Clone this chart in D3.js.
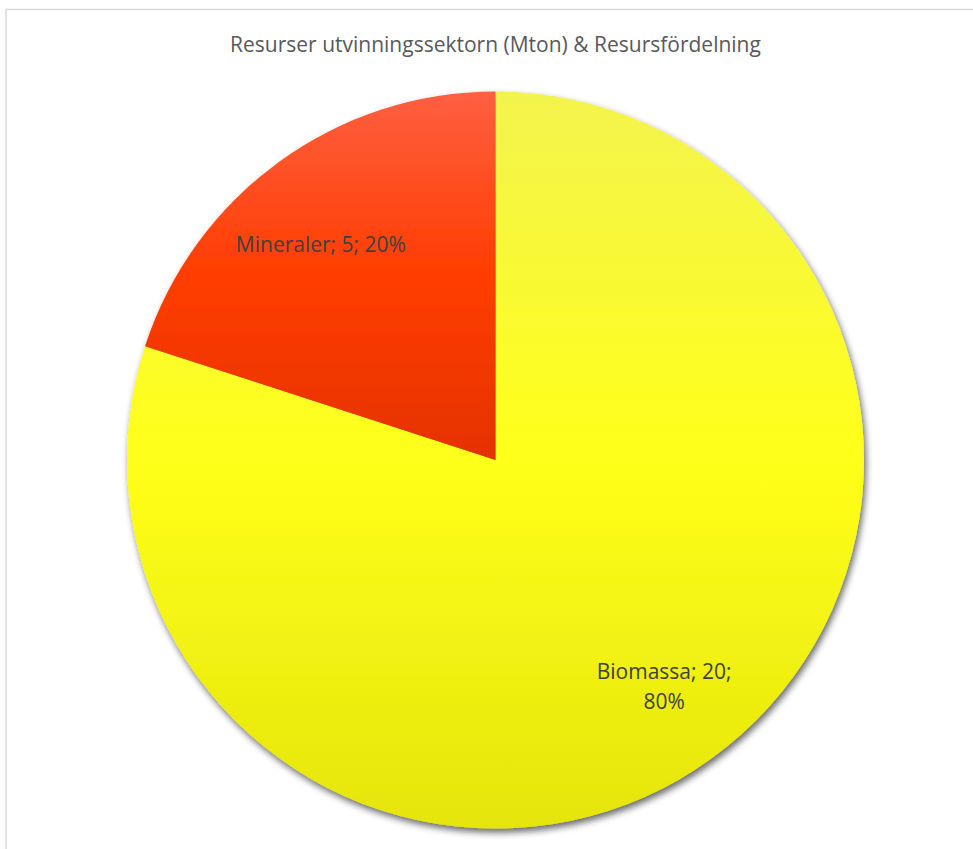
<!DOCTYPE html>
<html>
<head>
<meta charset="utf-8">
<script src="https://cdn.jsdelivr.net/npm/d3@7"></script>
<style>
  html, body { margin: 0; padding: 0; background: #ffffff; }
  svg { display: block; }
</style>
</head>
<body>
<svg id="chart" width="973" height="849"></svg>
<script>
// Resource extraction sector (Mton) split into biomass and minerals
const title = "Resurser utvinningssektorn (Mton) & Resursfördelning";
const categories = ["Biomassa", "Mineraler"];
const values = [20, 5];
// whether the percentage goes on its own line in the data label
const percentOnNewLine = [true, false];

const W = 973, H = 849;
const cx = 495.5, cy = 460, R = 368.5;
const FONT = "'Open Sans', 'Noto Sans', sans-serif";

const svg = d3.select("#chart");
const defs = svg.append("defs");

// soft outer shadow under the pie
const shadow = defs.append("filter").attr("id", "pieShadow")
  .attr("x", "-10%").attr("y", "-10%").attr("width", "120%").attr("height", "120%");
shadow.append("feGaussianBlur").attr("in", "SourceAlpha").attr("stdDeviation", 3.5).attr("result", "blur");
shadow.append("feOffset").attr("in", "blur").attr("dx", 2).attr("dy", 4).attr("result", "off");
shadow.append("feComponentTransfer").attr("in", "off").attr("result", "shade")
  .append("feFuncA").attr("type", "linear").attr("slope", 0.6);
const merge = shadow.append("feMerge");
merge.append("feMergeNode").attr("in", "shade");
merge.append("feMergeNode").attr("in", "SourceGraphic");

// vertical gradient per slice: light tint, base colour, darker shade
const gradientStops = [
  [{o: 0, c: "#f3f34e"}, {o: 0.5, c: "#ffff1a"}, {o: 1, c: "#e5e50b"}],
  [{o: 0, c: "#ff5f42"}, {o: 0.5, c: "#ff3d00"}, {o: 1, c: "#e53200"}]
];
gradientStops.forEach((stops, i) => {
  const g = defs.append("linearGradient").attr("id", "grad" + i)
    .attr("x1", 0).attr("y1", 0).attr("x2", 0).attr("y2", 1);
  stops.forEach(s => g.append("stop").attr("offset", s.o).attr("stop-color", s.c));
});

// chart frame
svg.append("rect")
  .attr("x", 6).attr("y", 9.5).attr("width", W + 20).attr("height", H + 20)
  .attr("fill", "#ffffff").attr("stroke", "#d9d9d9").attr("stroke-width", 1.5);

// title
svg.append("text")
  .attr("x", cx).attr("y", 52)
  .attr("text-anchor", "middle")
  .attr("font-family", FONT)
  .attr("font-size", 21)
  .attr("fill", "#595959")
  .text(title);

const pie = d3.pie().sort(null).value(d => d);
const arcs = pie(values);
const arc = d3.arc().innerRadius(0).outerRadius(R);
const labelArc = d3.arc().innerRadius(R * 0.76).outerRadius(R * 0.76);
const total = d3.sum(values);
const fmtPct = d3.format(".0%");

const g = svg.append("g").attr("transform", `translate(${cx},${cy})`);

g.append("g").attr("filter", "url(#pieShadow)")
  .selectAll("path").data(arcs).join("path")
  .attr("d", arc)
  .attr("fill", (d, i) => `url(#grad${i})`);

const labels = g.selectAll("text.lbl").data(arcs).join("text")
  .attr("class", "lbl")
  .attr("text-anchor", "middle")
  .attr("font-family", FONT)
  .attr("font-size", 21)
  .attr("fill", "#404040")
  .attr("transform", d => {
    const [x, y] = labelArc.centroid(d);
    // single-line labels sit a little further round the slice
    const single = !percentOnNewLine[d.index];
    return `translate(${single ? x - 10 : x + 4},${single ? y + 12 : y})`;
  });

labels.each(function(d, i) {
  const pct = fmtPct(d.data / total);
  const lines = percentOnNewLine[i]
    ? [`${categories[i]}; ${d.data};`, pct]
    : [`${categories[i]}; ${d.data}; ${pct}`];
  const lh = 30;
  const y0 = -(lines.length - 1) * lh / 2 + 7;
  d3.select(this).selectAll("tspan").data(lines).join("tspan")
    .attr("x", 0)
    .attr("y", (t, k) => y0 + k * lh)
    .text(t => t);
});
</script>
</body>
</html>
